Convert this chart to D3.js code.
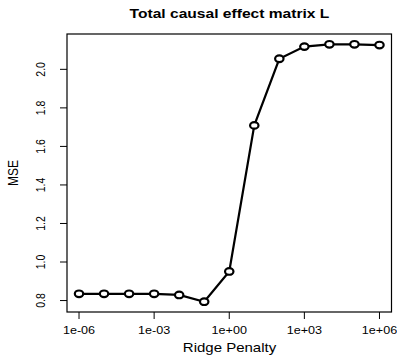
<!DOCTYPE html>
<html>
<head>
<meta charset="utf-8">
<title>Total causal effect matrix L</title>
<script src="https://d3js.org/d3.v7.min.js"></script>
<style>
  body { margin: 0; background: #fff; }
  text { font-family: "Liberation Sans", Arial, Helvetica, sans-serif; fill: #000; }
</style>
</head>
<body>
<script>
// ridge penalties (log10 spaced) and the MSE
var penalty = [1e-6, 1e-5, 1e-4, 1e-3, 1e-2, 1e-1, 1e0, 1e1, 1e2, 1e3, 1e4, 1e5, 1e6];
var mse = [0.835, 0.835, 0.835, 0.835, 0.829, 0.794, 0.951, 1.709, 2.055, 2.118, 2.130, 2.130, 2.126];
var xTicks = [1e-6, 1e-3, 1e0, 1e3, 1e6];
var xTickLabels = ["1e-06", "1e-03", "1e+00", "1e+03", "1e+06"];
var yTicks = [0.8, 1.0, 1.2, 1.4, 1.6, 1.8, 2.0];

var W = 397, H = 355;
var box = { left: 67, right: 391.5, top: 34, bottom: 312 };
var sx = 1.2; // the picture is stretched sideways

var svg = d3.select("body").append("svg")
    .attr("width", W)
    .attr("height", H);

// R pads the data range by 4% on both sides
var lx = [-6, 6], px = (lx[1] - lx[0]) * 0.04;
var x = d3.scaleLog()
    .domain([Math.pow(10, lx[0] - px), Math.pow(10, lx[1] + px)])
    .range([box.left, box.right]);

var ext = d3.extent(mse), py = (ext[1] - ext[0]) * 0.04;
var y = d3.scaleLinear()
    .domain([ext[0] - py, ext[1] + py])
    .range([box.bottom, box.top]);

function label(txt, tx, ty, size, rot, weight) {
  svg.append("text")
      .attr("transform", "translate(" + tx + "," + ty + ") scale(" + sx + ",1)" + (rot ? " rotate(-90)" : ""))
      .attr("text-anchor", "middle")
      .style("font-size", size + "px")
      .style("font-weight", weight || "normal")
      .text(txt);
}

// plot frame
svg.append("rect")
    .attr("x", box.left)
    .attr("y", box.top)
    .attr("width", box.right - box.left)
    .attr("height", box.bottom - box.top)
    .attr("fill", "none")
    .attr("stroke", "#000")
    .attr("stroke-width", 1.2);

// x ticks
xTicks.forEach(function(t, i) {
  svg.append("line")
      .attr("x1", x(t)).attr("x2", x(t))
      .attr("y1", box.bottom).attr("y2", box.bottom + 7)
      .attr("stroke", "#000");
  label(xTickLabels[i], x(t), 334, 10.5);
});

// y ticks
yTicks.forEach(function(t) {
  svg.append("line")
      .attr("x1", box.left - 7).attr("x2", box.left)
      .attr("y1", y(t)).attr("y2", y(t))
      .attr("stroke", "#000");
  label(d3.format(".1f")(t), 45, y(t), 10.5, true);
});

// series
svg.append("path")
    .datum(penalty)
    .attr("fill", "none")
    .attr("stroke", "#000")
    .attr("stroke-width", 2.2)
    .attr("d", d3.line()
        .x(function(d) { return x(d); })
        .y(function(d, i) { return y(mse[i]); }));

svg.selectAll(".pt")
    .data(penalty)
    .enter().append("ellipse")
      .attr("class", "pt")
      .attr("cx", function(d) { return x(d); })
      .attr("cy", function(d, i) { return y(mse[i]); })
      .attr("rx", 4.2)
      .attr("ry", 3.3)
      .attr("fill", "#fff")
      .attr("stroke", "#000")
      .attr("stroke-width", 2.2);

// titles
label("Total causal effect matrix L", 229.5, 17.5, 13, false, "bold");
label("Ridge Penalty", 229.5, 352, 12.5);
label("MSE", 18, 173, 12, true);
</script>
</body>
</html>
